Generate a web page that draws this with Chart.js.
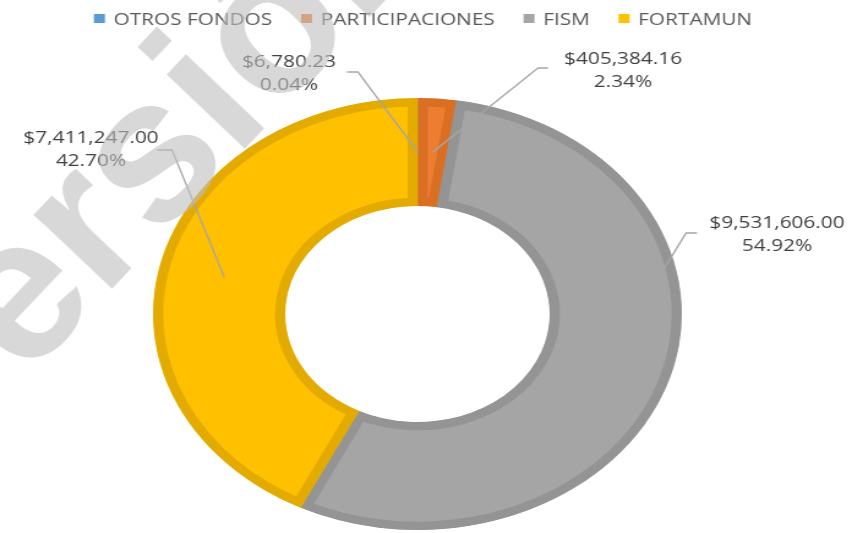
<!DOCTYPE html>
<html><head><meta charset="utf-8">
<script src="https://cdn.jsdelivr.net/npm/chart.js@4.4.0/dist/chart.umd.min.js"></script>
<style>
html,body{margin:0;padding:0;background:#fff;overflow:hidden;width:852px;height:533px;}
#wrap{position:absolute;left:0;top:0;width:696px;height:533px;transform:scaleX(1.2241379);transform-origin:0 0;}
canvas{display:block;}
</style></head><body>
<div id="wrap"><canvas id="c" width="696" height="533"></canvas></div>
<script>
// ---- data ----
const categories = ['OTROS FONDOS', 'PARTICIPACIONES', 'FISM', 'FORTAMUN'];
const amounts = [6780.23, 405384.16, 9531606.00, 7411247.00];
const amountLabels = ['$6,780.23', '$405,384.16', '$9,531,606.00', '$7,411,247.00'];
const percentLabels = ['0.04%', '2.34%', '54.92%', '42.70%'];
const fillColors = ['#5B9BD5', '#ED7D31', '#A5A5A5', '#FFC000'];
const edgeColors = ['#4A87C2', '#DA6F24', '#949494', '#E3AB00'];

// ---- layout (real page pixels) ----
const S = 852 / 696;
const labelLayout = [
  {tx: 289, by: 67, ex1: 347, ex2: 358, ey: 72},
  {tx: 623, by: 64, ex1: 548, ex2: 538, ey: 68},
  {tx: 777, by: 228, ex1: 697, ex2: 686, ey: 233},
  {tx: 91, by: 143, ex1: 157, ex2: 172, ey: 150}
];
const lineGap = 23;

const leaderPlugin = {
  id: 'leaders',
  afterDatasetsDraw(chart) {
    const ctx = chart.ctx;
    const meta = chart.getDatasetMeta(0);
    ctx.save();
    ctx.scale(1 / S, 1);
    ctx.strokeStyle = '#A6A6A6';
    ctx.lineWidth = 1.6;
    meta.data.forEach((arc, i) => {
      const p = arc.getProps(['x', 'y', 'startAngle', 'endAngle', 'innerRadius', 'outerRadius'], true);
      const mid = (p.startAngle + p.endAngle) / 2;
      const r = (p.innerRadius + p.outerRadius) / 2;
      const ax = (p.x + Math.cos(mid) * r) * S;
      const ay = p.y + Math.sin(mid) * r;
      const L = labelLayout[i];
      ctx.beginPath();
      ctx.moveTo(L.ex1, L.ey);
      ctx.lineTo(L.ex2, L.ey);
      ctx.lineTo(ax, ay);
      ctx.stroke();
    });
    ctx.restore();
    ctx.save();
    ctx.fillStyle = '#404040';
    ctx.font = '17px "Open Sans"';
    ctx.textAlign = 'center';
    ctx.textBaseline = 'alphabetic';
    labelLayout.forEach((L, i) => {
      ctx.fillText(amountLabels[i], L.tx / S, L.by);
      ctx.fillText(percentLabels[i], L.tx / S, L.by + lineGap);
    });
    ctx.restore();
  }
};

// legend drawn in the (stretched) chart space, centred on the page
const legendPlugin = {
  id: 'topLegend',
  afterDraw(chart) {
    const ctx = chart.ctx;
    ctx.save();
    ctx.font = '17px "Open Sans"';
    ctx.textBaseline = 'alphabetic';
    const box = 9, textOff = 16, gap = 23.5;
    const widths = categories.map(c => ctx.measureText(c).width);
    const total = widths.reduce((a, w) => a + textOff + w, 0) + gap * (categories.length - 1);
    let x = 423 / S - total / 2;
    categories.forEach((c, i) => {
      ctx.fillStyle = fillColors[i];
      ctx.fillRect(x, 14, box, box);
      ctx.fillStyle = '#595959';
      ctx.fillText(c, x + textOff, 25);
      x += textOff + widths[i] + gap;
    });
    ctx.restore();
  }
};

const watermarkPlugin = {
  id: 'watermark',
  afterDraw(chart) {
    const ctx = chart.ctx;
    ctx.save();
    ctx.scale(1 / S, 1);
    ctx.translate(-54, 463.5);
    ctx.rotate(-46.5 * Math.PI / 180);
    ctx.font = 'bold 204px "Liberation Sans"';
    ctx.fillStyle = 'rgba(190,190,190,0.6)';
    ctx.textBaseline = 'alphabetic';
    ctx.fillText('versión', 0, 0);
    ctx.restore();
  }
};

new Chart(document.getElementById('c'), {
  type: 'doughnut',
  data: {
    labels: categories,
    datasets: [{
      data: amounts,
      backgroundColor: fillColors,
      borderColor: edgeColors,
      borderWidth: 8,
      borderAlign: 'inner',
      hoverBorderWidth: 8,
      hoverOffset: 0
    }]
  },
  options: {
    responsive: false,
    animation: false,
    events: [],
    cutout: '50%',
    radius: 216,
    rotation: 0,
    layout: {padding: {left: 125, right: 139, top: 98, bottom: 3}},
    plugins: {legend: {display: false}, tooltip: {enabled: false}}
  },
  plugins: [leaderPlugin, legendPlugin, watermarkPlugin]
});
</script>
</body></html>
